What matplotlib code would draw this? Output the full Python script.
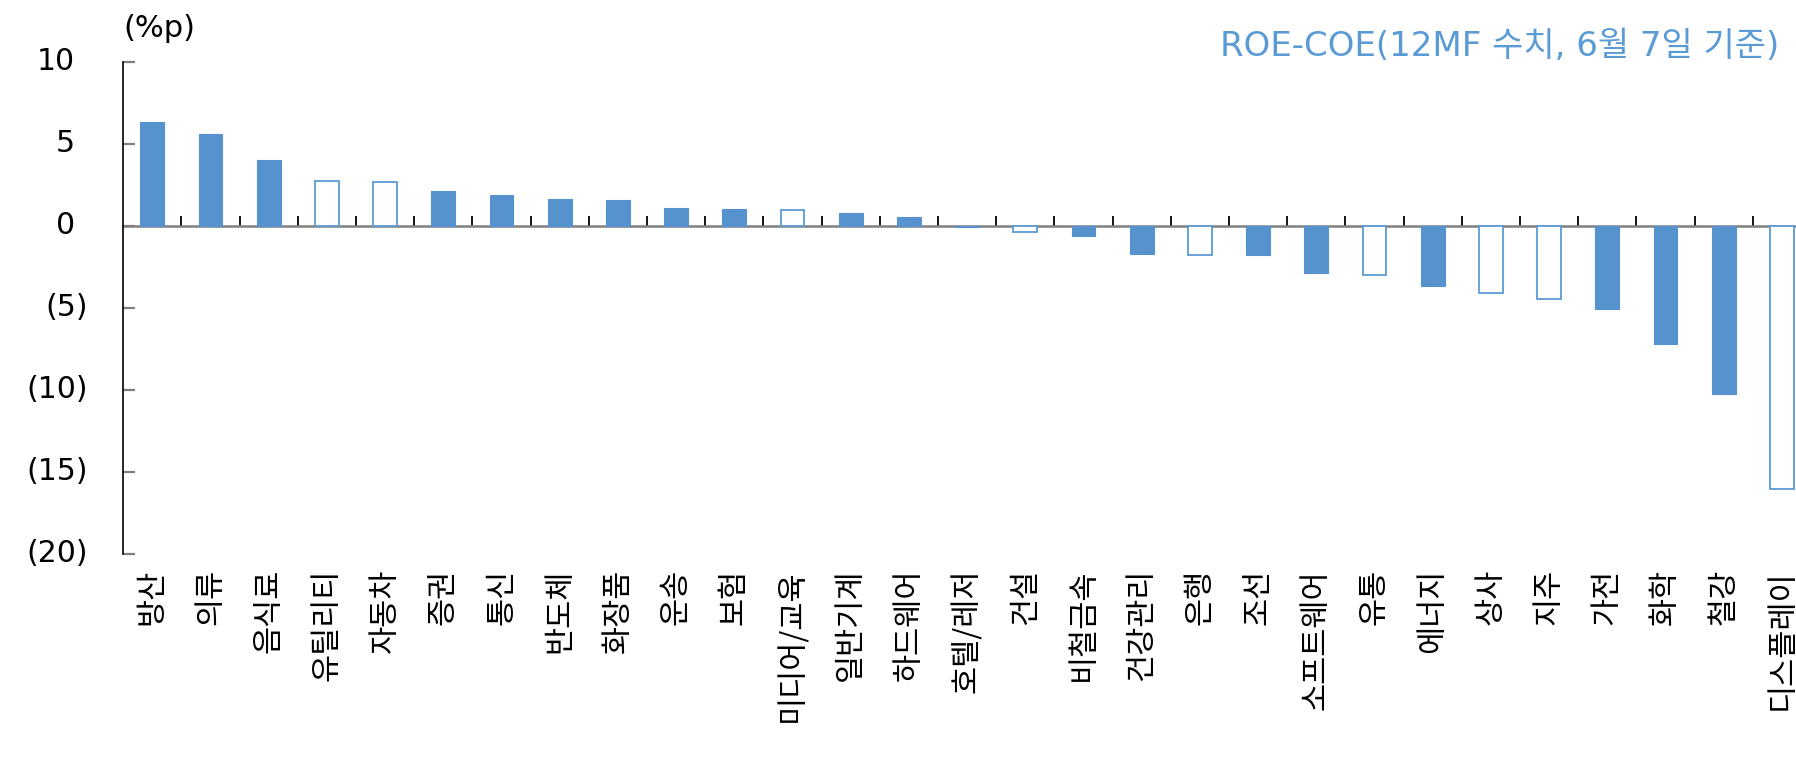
import matplotlib
matplotlib.use("Agg")
import matplotlib.pyplot as plt
import numpy as np

categories = ["방산", "의류", "음식료", "유틸리티", "자동차", "증권", "통신", "반도체", "화장품",
              "운송", "보험", "미디어/교육", "일반기계", "하드웨어", "호텔/레저", "건설", "비철금속",
              "건강관리", "은행", "조선", "소프트웨어", "유통", "에너지", "상사", "지주", "가전",
              "화학", "철강", "디스플레이"]
values = [6.33, 5.62, 4.02, 2.74, 2.66, 2.09, 1.89, 1.62, 1.56,
          1.08, 1.03, 0.93, 0.75, 0.53, -0.10, -0.39, -0.65,
          -1.72, -1.76, -1.81, -2.86, -3.02, -3.69, -4.09, -4.47, -5.07,
          -7.20, -10.27, -16.07]
hollow = ["유틸리티", "자동차", "미디어/교육", "건설", "은행", "유통", "상사", "지주", "디스플레이"]
yticks = [10, 5, 0, -5, -10, -15, -20]
unit_label = "(%p)"
legend_label = "ROE-COE(12MF 수치, 6월 7일 기준)"

FILL = "#5692CE"
EDGE = "#5B9BD5"
LFONT = ["DejaVu Sans", "Noto Sans CJK KR"]
plt.rcParams["font.family"] = LFONT

W, H = 1796, 757
fig = plt.figure(figsize=(W / 100, H / 100), dpi=100)
left_px, right_px = 123.2, 123.2 + 29 * 58.2
top_px, bot_px = 61.7, 553.6
ax = fig.add_axes([left_px / W, 1 - bot_px / H, (right_px - left_px) / W, (bot_px - top_px) / H])

x = np.arange(len(categories))
for xi, cat, v in zip(x, categories, values):
    if cat in hollow:
        ax.bar(xi, v, width=0.41, facecolor="white", edgecolor=EDGE, linewidth=1.3, zorder=2)
    else:
        ax.bar(xi, v, width=0.41, facecolor=FILL, edgecolor=FILL, linewidth=0.8, zorder=2)

ax.set_xlim(-0.5, len(categories) - 0.5)
ax.set_ylim(-20, 10)

for s in ["top", "right", "bottom"]:
    ax.spines[s].set_visible(False)
ax.spines["left"].set_color("black")
ax.spines["left"].set_linewidth(1.2)

ax.set_yticks(yticks)
ax.set_yticklabels([])
ax.tick_params(axis="y", direction="in", length=8.3, width=1.6, color="#808080")
ytr = ax.get_yaxis_transform()
for t in yticks:
    if t < 0:
        ax.text((88 - left_px) / (right_px - left_px), t, f"({abs(t)})", transform=ytr,
                ha="right", va="center", fontsize=21.5, family=LFONT, color="black")
    else:
        ax.text((75 - left_px) / (right_px - left_px), t, f"{t}", transform=ytr,
                ha="right", va="center", fontsize=21.5, family=LFONT, color="black")

ax.set_xticks(x)
ax.set_xticklabels(categories, rotation=90, fontsize=22, family=["Noto Sans CJK KR"])
ax.tick_params(axis="x", length=0, pad=11)

# zero line with boundary ticks
loc = (0 - (-20)) / 30
sec = ax.secondary_xaxis(loc)
sec.set_xticks(np.arange(0.5, len(categories) - 0.5, 1.0))
sec.tick_params(direction="out", length=7.2, width=1.3, color="black",
                labeltop=False, labelbottom=False)
for s in sec.spines.values():
    s.set_color("#808080")
    s.set_linewidth(1.8)

fig.text(123.7 / W, 1 - 28.5 / H, unit_label, ha="left", va="center", fontsize=22, family=LFONT)
fig.text(1779 / W, 1 - 47 / H, legend_label, ha="right", va="center", fontsize=24.5,
         family=LFONT, color=EDGE)

fig.savefig("out.png", dpi=100)
